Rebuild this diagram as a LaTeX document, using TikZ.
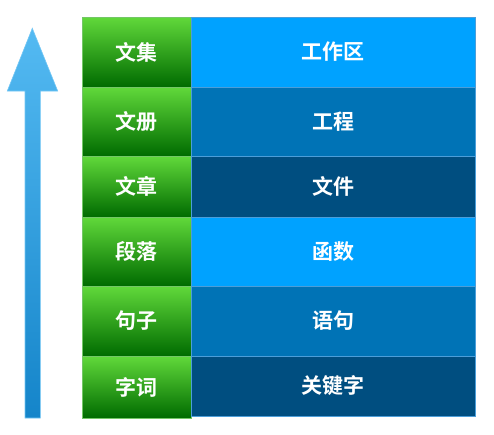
\documentclass[tikz,border=0pt]{standalone}
\usepackage{fontspec}
\newfontfamily\cjk{Noto Sans CJK SC}[BoldFont={Noto Sans CJK SC Bold}]
\newlength{\du}
\setlength{\du}{1pt}
\definecolor{greentop}{rgb}{0.380000, 0.850000, 0.230000}
\definecolor{greenbot}{rgb}{0.000000, 0.420000, 0.000000}
\definecolor{greenedge}{rgb}{0.450000, 0.780000, 0.400000}
\definecolor{bluelight}{rgb}{0.000000, 0.635000, 1.000000}
\definecolor{bluemid}{rgb}{0.000000, 0.450000, 0.715000}
\definecolor{bluedark}{rgb}{0.000000, 0.305000, 0.500000}
\definecolor{blueedge}{rgb}{0.300000, 0.620000, 0.850000}
\definecolor{arrowtop}{rgb}{0.330000, 0.730000, 0.950000}
\definecolor{arrowbot}{rgb}{0.080000, 0.520000, 0.790000}
\definecolor{arrowedge}{rgb}{0.450000, 0.780000, 0.960000}
\tikzset{
  levelcell/.style={rectangle, minimum width=109\du, inner sep=0pt,
    draw=greenedge, line width=0.8\du, top color=greentop, bottom color=greenbot,
    text=white, font=\cjk\bfseries\fontsize{21}{25}\selectfont},
  codecell/.style={rectangle, minimum width=284.5\du, inner sep=0pt,
    draw=blueedge, line width=0.8\du, text=white,
    font=\cjk\bfseries\fontsize{21}{25}\selectfont},
}
\begin{document}
\begin{tikzpicture}
\pgftransformxscale{1.000000}
\pgftransformyscale{-1.000000}
\useasboundingbox (0\du,0\du) rectangle (494\du,434\du);
% arrow
\shade[top color=arrowtop, bottom color=arrowbot, draw=arrowedge, line width=0.6\du]
  (25\du,418\du)--(25\du,91\du)--(7.3\du,91\du)--(32.3\du,28.3\du)
  --(57.7\du,91\du)--(40.3\du,91\du)--(40.3\du,418\du)--cycle;
% left column
\node[levelcell, minimum height=70\du] (wenji) at (136.5\du,52\du){文集};
\node[levelcell, minimum height=69\du] (wence) at (136.5\du,121.5\du){文册};
\node[levelcell, minimum height=61\du] (wenzhang) at (136.5\du,186.5\du){文章};
\node[levelcell, minimum height=69\du] (duanluo) at (136.5\du,251.5\du){段落};
\node[levelcell, minimum height=70\du] (juzi) at (136.5\du,321\du){句子};
\node[levelcell, minimum height=62\du] (zici) at (136.5\du,387\du){字词};
% right column
\node[codecell, fill=bluelight, minimum height=70\du] (gongzuoqu) at (333.25\du,52\du){工作区};
\node[codecell, fill=bluemid, minimum height=69\du] (gongcheng) at (333.25\du,121.5\du){工程};
\node[codecell, fill=bluedark, minimum height=61\du] (wenjian) at (333.25\du,186.5\du){文件};
\node[codecell, fill=bluelight, minimum height=69\du] (hanshu) at (333.25\du,251.5\du){函数};
\node[codecell, fill=bluemid, minimum height=70\du] (yuju) at (333.25\du,321\du){语句};
\node[codecell, fill=bluedark, minimum height=60\du] (guanjianzi) at (333.25\du,386\du){关键字};
\end{tikzpicture}
\end{document}
